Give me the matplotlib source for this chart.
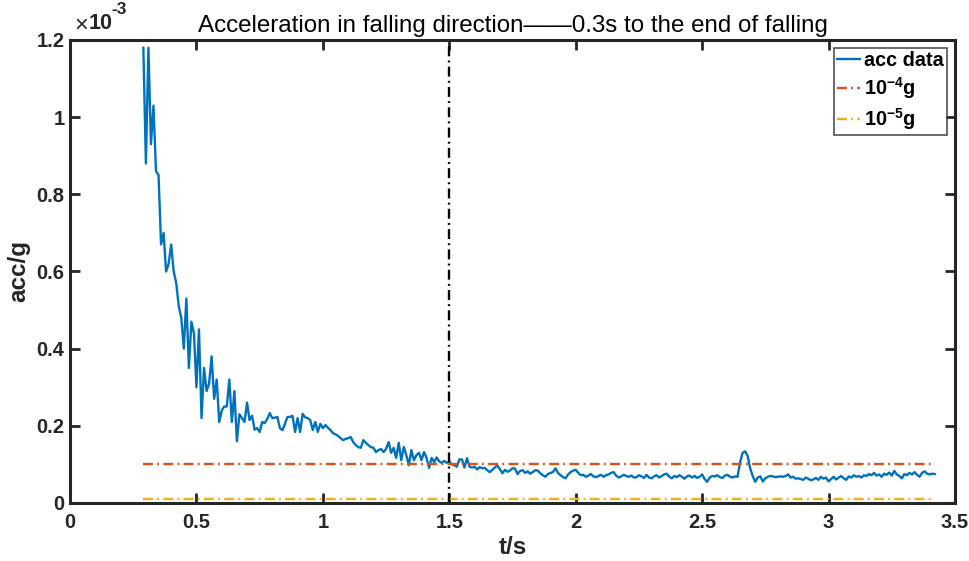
import numpy as np
import matplotlib
matplotlib.use("Agg")
import matplotlib.pyplot as plt

plt.rcParams['font.family'] = ['Liberation Sans', 'DejaVu Sans']
plt.rcParams['mathtext.fontset'] = 'custom'
plt.rcParams['mathtext.rm'] = 'Liberation Sans'
plt.rcParams['mathtext.bf'] = 'Liberation Sans:bold'

# acceleration samples, one every 0.01 s starting at 0.29 s (units of 1e-3 g)
t_start = 0.29
t_step = 0.01
acc_e3 = [
    1.18, 0.88, 1.18, 0.93, 1.03, 0.86, 0.85, 0.67, 0.70, 0.60,
    0.62, 0.67, 0.60, 0.57, 0.51, 0.48, 0.40, 0.53, 0.35, 0.47,
    0.44, 0.30, 0.45, 0.22, 0.35, 0.29, 0.31, 0.38, 0.27, 0.32,
    0.21, 0.24, 0.25, 0.25, 0.32, 0.21, 0.29, 0.16, 0.23, 0.22,
    0.21, 0.26, 0.215, 0.226, 0.19, 0.194, 0.184, 0.21, 0.207, 0.218,
    0.233, 0.220, 0.221, 0.223, 0.194, 0.189, 0.205, 0.223, 0.223, 0.226,
    0.184, 0.220, 0.184, 0.231, 0.222, 0.220, 0.215, 0.189, 0.210, 0.184,
    0.205, 0.194, 0.202, 0.195, 0.189, 0.181, 0.178, 0.174, 0.168, 0.163,
    0.166, 0.168, 0.171, 0.158, 0.150, 0.145, 0.143, 0.163, 0.156, 0.150,
    0.145, 0.143, 0.132, 0.137, 0.140, 0.132, 0.140, 0.158, 0.130, 0.143,
    0.117, 0.156, 0.111, 0.145, 0.124, 0.098, 0.137, 0.111, 0.124, 0.130,
    0.111, 0.132, 0.117, 0.091, 0.117, 0.106, 0.118, 0.108, 0.104, 0.109,
    0.104, 0.108, 0.100, 0.098, 0.094, 0.113, 0.113, 0.092, 0.116, 0.094,
    0.092, 0.094, 0.087, 0.093, 0.090, 0.091, 0.085, 0.080, 0.086, 0.092,
    0.097, 0.088, 0.077, 0.086, 0.081, 0.084, 0.090, 0.089, 0.075, 0.083,
    0.085, 0.078, 0.082, 0.076, 0.080, 0.085, 0.084, 0.077, 0.072, 0.068,
    0.075, 0.078, 0.080, 0.090, 0.078, 0.072, 0.067, 0.064, 0.074, 0.080,
    0.084, 0.086, 0.078, 0.072, 0.073, 0.068, 0.071, 0.075, 0.069, 0.067,
    0.070, 0.073, 0.068, 0.072, 0.074, 0.078, 0.080, 0.071, 0.066, 0.069,
    0.073, 0.070, 0.068, 0.071, 0.066, 0.067, 0.072, 0.069, 0.065, 0.073,
    0.066, 0.064, 0.069, 0.072, 0.066, 0.070, 0.074, 0.076, 0.068, 0.064,
    0.070, 0.067, 0.072, 0.068, 0.063, 0.069, 0.071, 0.066, 0.070, 0.065,
    0.068, 0.074, 0.062, 0.055, 0.066, 0.070, 0.069, 0.072, 0.067, 0.065,
    0.071, 0.073, 0.068, 0.066, 0.069, 0.068, 0.105, 0.130, 0.134, 0.122,
    0.090, 0.070, 0.055, 0.066, 0.069, 0.056, 0.064, 0.068, 0.070, 0.069,
    0.067, 0.068, 0.069, 0.068, 0.070, 0.074, 0.066, 0.068, 0.063, 0.064,
    0.062, 0.060, 0.066, 0.063, 0.059, 0.061, 0.065, 0.060, 0.068, 0.063,
    0.066, 0.056, 0.062, 0.068, 0.061, 0.066, 0.070, 0.064, 0.060, 0.069,
    0.066, 0.072, 0.068, 0.070, 0.066, 0.072, 0.070, 0.075, 0.072, 0.078,
    0.071, 0.074, 0.068, 0.076, 0.073, 0.079, 0.071, 0.083, 0.074, 0.070,
    0.064, 0.075, 0.072, 0.078, 0.074, 0.080, 0.073, 0.068, 0.078, 0.082,
    0.076, 0.074, 0.076, 0.075,
]
acc = np.array(acc_e3) * 1e-3
t = t_start + t_step * np.arange(len(acc))

limit_levels = [1e-4, 1e-5]
limit_labels = [r'$\mathbf{10^{-4}}$g', r'$\mathbf{10^{-5}}$g']
limit_colors = ['#D95319', '#EDB120']
t_mark = 1.5

dashdot = (0, (4.2, 1.8, 0.8, 1.8))
ink = '#262626'

fig = plt.figure(figsize=(9.7, 5.61), dpi=100)
ax = fig.add_axes([0.0722, 0.1034, 0.9123, 0.8253])

ax.plot(t, acc, color='#0072BD', lw=1.7, label='acc data')
for lev, lab, col in zip(limit_levels, limit_labels, limit_colors):
    ax.plot([t[0], t[-1]], [lev, lev], color=col, lw=1.7, ls=dashdot, label=lab)
ax.plot([t_mark, t_mark], [0, 1.2e-3], color='black', lw=1.7, ls=dashdot)

ax.set_xlim(0, 3.5)
ax.set_ylim(0, 1.2e-3)
ax.set_xticks(np.arange(0, 3.51, 0.5))
ax.set_yticks(np.arange(0, 1.21e-3, 0.2e-3))
ax.set_xticklabels(['0', '0.5', '1', '1.5', '2', '2.5', '3', '3.5'])
ax.set_yticklabels(['0', '0.2', '0.4', '0.6', '0.8', '1', '1.2'])
ax.tick_params(direction='in', length=7, width=2, top=True, right=True,
               labelsize=14.5, color=ink)
ax.tick_params(axis='x', pad=7)
ax.tick_params(axis='y', pad=4)
for lbl in ax.get_xticklabels() + ax.get_yticklabels():
    lbl.set_fontweight('bold')
    lbl.set_color(ink)
for sp in ax.spines.values():
    sp.set_linewidth(2.2)
    sp.set_color(ink)

# exponent shown above the y axis
ax.text(0.005, 1.01, r'$\times$', transform=ax.transAxes, fontsize=17,
        color=ink, ha='left', va='bottom')
ax.text(0.021, 1.012, '10', transform=ax.transAxes, fontsize=15.5,
        fontweight='bold', color=ink, ha='left', va='bottom')
ax.text(0.047, 1.05, '-3', transform=ax.transAxes, fontsize=12.5,
        fontweight='bold', color=ink, ha='left', va='bottom')

ax.set_xlabel('t/s', fontsize=17.5, fontweight='bold', color=ink)
ax.set_ylabel('acc/g', fontsize=17.5, fontweight='bold', color=ink)
ax.xaxis.set_label_coords(0.5, -0.072)
ax.yaxis.set_label_coords(-0.045, 0.5)
ax.set_title('Acceleration in falling direction\u2014\u20140.3s to the end of falling',
             fontsize=17.4, color='black', pad=6)

leg = ax.legend(loc='upper right', handlelength=1.15, handletextpad=0.2,
                borderpad=0.15, labelspacing=0.25, fancybox=False,
                borderaxespad=0.4, prop={'weight': 'bold', 'size': 14.3})
leg.get_frame().set_edgecolor(ink)
leg.get_frame().set_linewidth(1.2)

fig.savefig('out.png', dpi=100)
